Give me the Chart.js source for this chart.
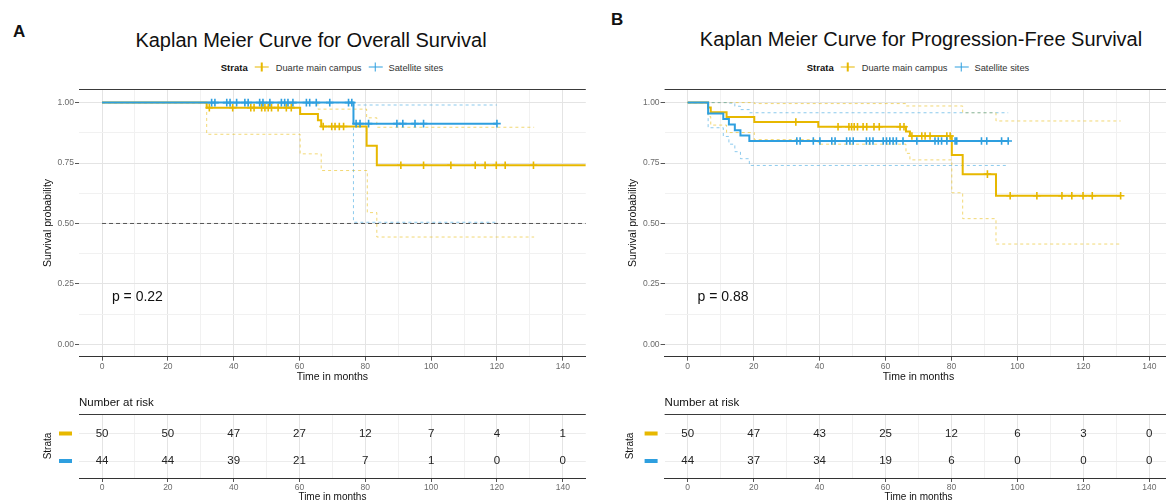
<!DOCTYPE html>
<html>
<head>
<meta charset="utf-8">
<script src="https://cdn.jsdelivr.net/npm/chart.js@4.4.1/dist/chart.umd.min.js"></script>
<style>
  html, body { margin: 0; padding: 0; background: #fff; }
  body { width: 1166px; height: 501px; position: relative; overflow: hidden;
         font-family: "Liberation Sans", Arial, sans-serif; }
  canvas { position: absolute; }
  .lbl { position: absolute; white-space: nowrap; color: #111; }
  .panel { font-weight: bold; font-size: 17px; transform: translateY(-50%); }
  .title { font-size: 20px; transform: translate(-50%, -50%); }
  .legend { position: absolute; display: flex; align-items: center; transform: translate(-50%, -50%);
            font-size: 9.3px; color: #333; white-space: nowrap; }
  .legend b { font-size: 9.5px; color: #111; }
  .key { position: relative; width: 14px; height: 9px; margin: 0 7px; }
  .key::before { content: ''; position: absolute; left: 0; right: 0; top: 3.8px; height: 1.4px; background: var(--c); }
  .key::after { content: ''; position: absolute; left: 6.3px; width: 1.4px; top: 0; bottom: 0; background: var(--c); }
</style>
</head>
<body>
<div class="lbl panel" style="left:13px; top:32px">A</div>
<div class="lbl panel" style="left:611px; top:20px">B</div>
<div class="lbl title" style="left:311px; top:40px">Kaplan Meier Curve for Overall Survival</div>
<div class="lbl title" style="left:921px; top:39px">Kaplan Meier Curve for Progression-Free Survival</div>
<div class="legend" style="left:332px; top:67px">
  <b>Strata</b><span class="key" style="--c:#E7B800"></span>Duarte main campus<span class="key" style="--c:#2E9FDF; margin-right:6px"></span>Satellite sites
</div>
<div class="legend" style="left:918px; top:67px">
  <b>Strata</b><span class="key" style="--c:#E7B800"></span>Duarte main campus<span class="key" style="--c:#2E9FDF; margin-right:6px"></span>Satellite sites
</div>

<canvas id="osMain" width="592" height="310" style="left:0; top:80px"></canvas>
<canvas id="osRisk" width="592" height="115" style="left:0; top:392px"></canvas>
<canvas id="pfsMain" width="600" height="310" style="left:580px; top:80px"></canvas>
<canvas id="pfsRisk" width="600" height="115" style="left:580px; top:392px"></canvas>

<script>
const DUARTE = '#E7B800'
const SATELLITE = '#2E9FDF'
const DUARTE_CI = 'rgba(231,184,0,0.55)'
const SATELLITE_CI = 'rgba(46,159,223,0.55)'

// ---- overall survival (A) ----
const osDuarteTime = [0, 31.8, 60.2, 65.6, 66.6, 80.4, 83.5, 147]
const osDuarteSurv = [1, 0.979, 0.953, 0.927, 0.901, 0.821, 0.741, 0.741]
const osDuarteCensor = [32.6, 39.7, 45.2, 46.2, 48.5, 49.5, 50.5, 51.5, 53.5, 56, 57.5,
    67.2, 69.8, 70.8, 72.1, 73.4, 90.8, 97.7, 106, 113.4, 116.4, 119.8, 122.5, 131.1]
const osDuarteLowTime = [0, 31.8, 60.2, 66.6, 80.6, 83.5, 131.3]
const osDuarteLow = [1, 0.869, 0.788, 0.719, 0.545, 0.444, 0.444]
const osDuarteUpTime = [0, 65.6, 80.4, 83.5, 131.3]
const osDuarteUp = [1, 0.973, 0.937, 0.898, 0.898]

const osSatTime = [0, 76.4, 120]
const osSatSurv = [1, 0.913, 0.913]
const osSatCensor = [33.3, 34.3, 37.9, 38.9, 40.9, 43.4, 44.4, 47.9, 48.9, 51, 54.5, 55.5, 56.5, 58,
    62.1, 63.1, 65.1, 69.2, 74.9, 75.9, 77.2, 78.4, 81, 89.6, 91.4, 95.1, 97.7, 120]
const osSatLowTime = [0, 76.4, 120]
const osSatLow = [1, 0.505, 0.505]
const osSatUpTime = [0, 76.4, 120]
const osSatUp = [1, 0.99, 0.99]

const medianTime = [0, 147]
const medianSurv = [0.5, 0.5]

// ---- progression-free survival (B) ----
const pfsDuarteTime = [0, 6.2, 7, 11.8, 20.2, 39.6, 66.2, 67.4, 80.1, 83.4, 93.5, 131.3]
const pfsDuarteSurv = [1, 0.98, 0.96, 0.94, 0.92, 0.90, 0.88, 0.862, 0.783, 0.704, 0.615, 0.615]
const pfsDuarteCensor = [32.8, 45.6, 48.9, 49.7, 50.5, 51.5, 53.2, 54.3, 56.5, 58.1, 64.4, 65.6,
    68, 71, 72, 73.5, 78.6, 79.6, 90.9, 97.8, 105.9, 113.5, 116.5, 119.9, 122.7, 131.3]
const pfsDuarteLowTime = [0, 6.2, 7, 11.8, 20.2, 39.6, 66.2, 67.4, 80.1, 83.4, 93.5, 131.3]
const pfsDuarteLow = [1, 0.942, 0.907, 0.876, 0.847, 0.828, 0.79, 0.763, 0.627, 0.52, 0.415, 0.415]
const pfsDuarteUpTime = [0, 20.2, 66.2, 83.4, 93.5, 131.3]
const pfsDuarteUp = [1, 0.996, 0.986, 0.958, 0.924, 0.924]

const pfsSatTime = [0, 6.2, 10.8, 12.5, 14.3, 16, 18.7, 97.2]
const pfsSatSurv = [1, 0.955, 0.932, 0.909, 0.886, 0.864, 0.841, 0.841]
const pfsSatCensor = [33.1, 34.1, 38.1, 40.1, 43.7, 44.7, 48.2, 49.2, 50.2, 54.2, 55.2, 56.2,
    59.3, 60.3, 61.3, 62.3, 63.3, 65.3, 69.5, 75, 76, 77, 78.6, 81.1, 81.6, 89.1, 90.7, 95.2, 97.2]
const pfsSatLowTime = [0, 6.2, 10.8, 12.5, 14.3, 16, 18.7, 97.2]
const pfsSatLow = [1, 0.896, 0.86, 0.828, 0.797, 0.768, 0.74, 0.74]
const pfsSatUpTime = [0, 12.5, 14.3, 16, 18.7, 97.2]
const pfsSatUp = [1, 0.998, 0.985, 0.971, 0.958, 0.958]

// ---- number at risk ----
const riskTimes = [0, 20, 40, 60, 80, 100, 120, 140]
const osRiskDuarte = [50, 50, 47, 27, 12, 7, 4, 1]
const osRiskSatellite = [44, 44, 39, 21, 7, 1, 0, 0]
const pfsRiskDuarte = [50, 47, 43, 25, 12, 6, 3, 0]
const pfsRiskSatellite = [44, 37, 34, 19, 6, 0, 0, 0]

// axis ticks (major + minor grid)
const timeGrid = [0, 10, 20, 30, 40, 50, 60, 70, 80, 90, 100, 110, 120, 130, 140]
const survGrid = [0, 0.125, 0.25, 0.375, 0.5, 0.625, 0.75, 0.875, 1]

Chart.defaults.font.family = '"Liberation Sans", Arial, sans-serif'

function stepAt(times, surv, t) {
    let s = surv[0]
    for (let i = 0; i < times.length; i++)
        if (times[i] <= t) s = surv[i]
    return s
}

const pts = (times, vals) => times.map((t, i) => ({ x: t, y: vals[i] }))

function curve(times, surv, color, order) {
    return { data: pts(times, surv), borderColor: color, borderWidth: 2, stepped: true,
             pointRadius: 0, fill: false, order }
}

function ciLine(times, vals, color) {
    return { data: pts(times, vals), borderColor: color, borderWidth: 1, borderDash: [3, 3],
             stepped: true, pointRadius: 0, fill: false, order: 10 }
}

function censor(times, kmTime, kmSurv, color, order) {
    return { data: times.map(t => ({ x: t, y: stepAt(kmTime, kmSurv, t) })), showLine: false,
             pointStyle: 'cross', pointRadius: 3.8, pointBorderWidth: 1.6,
             borderColor: color, backgroundColor: color, order }
}

const isMajorTime = v => v % 20 === 0
const isMajorSurv = v => Math.round(v * 1000) % 250 === 0
const gridColor = major => ctx => (!ctx.tick || major(ctx.tick.value)) ? '#e4e4e4' : '#f1f1f1'
const tickColor = major => ctx => (!ctx.tick || major(ctx.tick.value)) ? '#555' : 'rgba(0,0,0,0)'

const panelDecor = {
    id: 'panelDecor',
    afterDraw(chart, args, opts) {
        const { ctx, chartArea: a, scales } = chart
        ctx.save()
        ctx.strokeStyle = '#3a3a3a'
        ctx.lineWidth = 1
        ctx.beginPath()
        ctx.moveTo(a.left, Math.round(a.top) + 0.5)
        ctx.lineTo(a.right, Math.round(a.top) + 0.5)
        ctx.stroke()
        ctx.font = '14px "Liberation Sans", Arial, sans-serif'
        ctx.fillStyle = '#111'
        ctx.textAlign = 'left'
        ctx.textBaseline = 'middle'
        ctx.fillText(opts.text, scales.x.getPixelForValue(opts.x), scales.y.getPixelForValue(opts.y))
        ctx.restore()
    }
}

function timeAxis(height, titlePadBottom, titleSize) {
    return {
        type: 'linear', min: -7, max: 147,
        afterBuildTicks: s => { s.ticks = timeGrid.map(v => ({ value: v })) },
        afterFit: s => { s.height = height },
        grid: { color: gridColor(isMajorTime), tickColor: tickColor(isMajorTime), tickLength: 4, lineWidth: 1 },
        border: { display: true, color: '#333', width: 1 },
        ticks: { autoSkip: false, maxRotation: 0, padding: 1, color: '#6b6b6b', font: { size: 8.5 },
                 callback: v => isMajorTime(v) ? String(v) : '' },
        title: { display: true, text: 'Time in months', color: '#111', font: { size: titleSize },
                 padding: { top: 0, bottom: titlePadBottom } }
    }
}

function mainChart(id, yWidth, padRight, yTitlePad, datasets, pText) {
    return new Chart(document.getElementById(id), {
        type: 'line',
        data: { datasets },
        options: {
            responsive: false, animation: false, devicePixelRatio: 1,
            layout: { padding: { top: 9.3, right: padRight, bottom: 0, left: 0 } },
            plugins: { legend: { display: false }, tooltip: { enabled: false },
                       panelDecor: { text: pText, x: 3, y: 0.195 } },
            scales: {
                x: timeAxis(33.3, 7, 10.5),
                y: {
                    type: 'linear', min: -0.051, max: 1.055,
                    afterBuildTicks: s => { s.ticks = survGrid.map(v => ({ value: v })) },
                    afterFit: s => { s.width = yWidth },
                    grid: { color: gridColor(isMajorSurv), tickColor: tickColor(isMajorSurv), tickLength: 4 },
                    border: { display: false },
                    ticks: { autoSkip: false, padding: 1, color: '#6b6b6b', font: { size: 8.5 },
                             callback: v => isMajorSurv(v) ? v.toFixed(2) : '' },
                    title: { display: true, text: 'Survival probability', color: '#111', font: { size: 10.5 },
                             padding: { top: yTitlePad, bottom: 0 } }
                }
            }
        },
        plugins: [panelDecor]
    })
}

const riskDecor = {
    id: 'riskDecor',
    afterDraw(chart, args, opts) {
        const { ctx, chartArea: a, scales: { x, y } } = chart
        ctx.save()
        ctx.strokeStyle = '#3a3a3a'
        ctx.lineWidth = 1
        ctx.beginPath()
        ctx.moveTo(a.left, Math.round(a.top) + 0.5)
        ctx.lineTo(a.right, Math.round(a.top) + 0.5)
        ctx.stroke()

        ctx.fillStyle = '#111'
        ctx.font = '11.5px "Liberation Sans", Arial, sans-serif'
        ctx.textAlign = 'left'
        ctx.textBaseline = 'middle'
        ctx.fillText('Number at risk', a.left, a.top - 11)

        const rows = [[1, DUARTE, opts.duarte], [0, SATELLITE, opts.satellite]]
        for (const [row, color, counts] of rows) {
            const py = y.getPixelForValue(row)
            ctx.fillStyle = color
            ctx.fillRect(a.left - 20, py - 2, 13, 4)
            ctx.fillStyle = '#222'
            ctx.textAlign = 'center'
            counts.forEach((n, i) => ctx.fillText(String(n), x.getPixelForValue(riskTimes[i]), py))
        }
        ctx.restore()
    }
}

function riskChart(id, yWidth, padRight, yTitlePad, duarte, satellite) {
    return new Chart(document.getElementById(id), {
        type: 'line',
        data: { datasets: [] },
        options: {
            responsive: false, animation: false, devicePixelRatio: 1,
            layout: { padding: { top: 22, right: padRight, bottom: 0, left: 0 } },
            plugins: { legend: { display: false }, tooltip: { enabled: false },
                       riskDecor: { duarte, satellite } },
            scales: {
                x: timeAxis(29, 4, 10),
                y: {
                    type: 'linear', min: -0.618, max: 1.709,
                    afterBuildTicks: s => { s.ticks = [{ value: 0 }, { value: 1 }] },
                    afterFit: s => { s.width = yWidth },
                    grid: { color: '#ececec', drawTicks: false },
                    border: { display: false },
                    ticks: { display: false },
                    title: { display: true, text: 'Strata', color: '#111', font: { size: 10 },
                             padding: { top: yTitlePad, bottom: 0 } }
                }
            }
        },
        plugins: [riskDecor]
    })
}

mainChart('osMain', 79, 6.2, 42, [
    censor(osSatCensor, osSatTime, osSatSurv, SATELLITE, 0),
    curve(osSatTime, osSatSurv, SATELLITE, 1),
    censor(osDuarteCensor, osDuarteTime, osDuarteSurv, DUARTE, 2),
    curve(osDuarteTime, osDuarteSurv, DUARTE, 3),
    ciLine(osSatUpTime, osSatUp, SATELLITE_CI),
    ciLine(osSatLowTime, osSatLow, SATELLITE_CI),
    ciLine(osDuarteUpTime, osDuarteUp, DUARTE_CI),
    ciLine(osDuarteLowTime, osDuarteLow, DUARTE_CI),
    { data: pts(medianTime, medianSurv), borderColor: '#555', borderWidth: 1, borderDash: [4, 3],
      pointRadius: 0, fill: false, order: 20 }
], 'p = 0.22')

mainChart('pfsMain', 84.6, 7.6, 47, [
    censor(pfsSatCensor, pfsSatTime, pfsSatSurv, SATELLITE, 0),
    curve(pfsSatTime, pfsSatSurv, SATELLITE, 1),
    censor(pfsDuarteCensor, pfsDuarteTime, pfsDuarteSurv, DUARTE, 2),
    curve(pfsDuarteTime, pfsDuarteSurv, DUARTE, 3),
    ciLine(pfsSatUpTime, pfsSatUp, SATELLITE_CI),
    ciLine(pfsSatLowTime, pfsSatLow, SATELLITE_CI),
    ciLine(pfsDuarteUpTime, pfsDuarteUp, DUARTE_CI),
    ciLine(pfsDuarteLowTime, pfsDuarteLow, DUARTE_CI)
], 'p = 0.88')

riskChart('osRisk', 79, 6.2, 42, osRiskDuarte, osRiskSatellite)
riskChart('pfsRisk', 84.6, 7.6, 44.4, pfsRiskDuarte, pfsRiskSatellite)
</script>
</body>
</html>
